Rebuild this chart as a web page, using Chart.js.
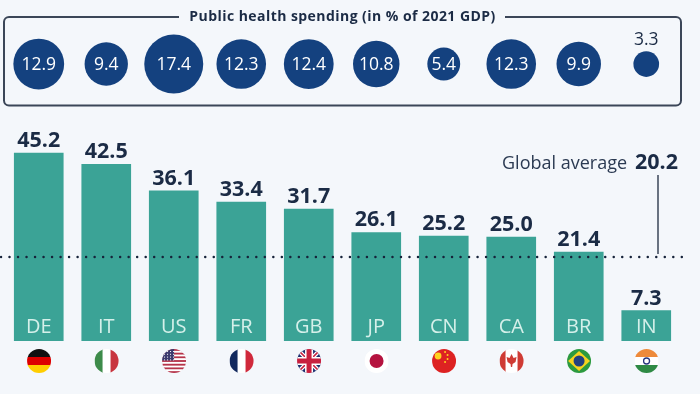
<!DOCTYPE html>
<html>
<head>
<meta charset="utf-8">
<style>
  html, body { margin: 0; padding: 0; background: #f4f7fb; }
  canvas { display: block; }
</style>
<script src="https://cdn.jsdelivr.net/npm/chart.js@4/dist/chart.umd.min.js"></script>
</head>
<body>
<canvas id="chart" width="700" height="394"></canvas>
<script>
const countries = ['DE', 'IT', 'US', 'FR', 'GB', 'JP', 'CN', 'CA', 'BR', 'IN'];
const shareValues = [45.2, 42.5, 36.1, 33.4, 31.7, 26.1, 25.2, 25.0, 21.4, 7.3];
const healthSpending = [12.9, 9.4, 17.4, 12.3, 12.4, 10.8, 5.4, 12.3, 9.9, 3.3];
const globalAverage = 20.2;
const boxTitle = 'Public health spending (in % of 2021 GDP)';
const averageLabel = 'Global average';

const FONT = '"Open Sans", sans-serif';
const INK = '#1b2b45';
const LINE = '#3b4658';
const NAVY = '#14417f';
const TEAL = '#3ba396';
const BUBBLE_ROW = 66.6;   // value on the y axis where the bubble row sits
const BUBBLE_K = 7.07;     // radius = k * sqrt(value), bubbles scale by area

function stripes(c, x, r, colors, vertical) {
    const n = colors.length;
    colors.forEach(function (col, i) {
        c.fillStyle = col;
        if (vertical) c.fillRect(x - r + i * 2 * r / n, 361 - r, 2 * r / n + 0.5, 2 * r);
        else c.fillRect(x - r, 361 - r + i * 2 * r / n, 2 * r, 2 * r / n + 0.5);
    });
}

const flags = {
    DE: function (c, x, r) { stripes(c, x, r, ['#111111', '#dd0000', '#ffce00']); },
    IT: function (c, x, r) { stripes(c, x, r, ['#3d8b4a', '#ffffff', '#c8353f'], true); },
    FR: function (c, x, r) { stripes(c, x, r, ['#12295e', '#ffffff', '#d0293b'], true); },
    US: function (c, x, r) {
        const rows = [];
        for (let i = 0; i < 13; i++) rows.push(i % 2 ? '#ffffff' : '#b5344a');
        stripes(c, x, r, rows);
        c.fillStyle = '#3c3b6e';
        c.fillRect(x - r, 361 - r, r, r * 0.95);
        c.fillStyle = '#ffffff';
        for (let a = 0; a < 4; a++) for (let b = 0; b < 4; b++) c.fillRect(x - r + 2 + a * 3, 361 - r + 2 + b * 2.8, 1, 1);
    },
    GB: function (c, x, r) {
        c.fillStyle = '#1f3070';
        c.fillRect(x - r, 361 - r, 2 * r, 2 * r);
        c.strokeStyle = '#ffffff';
        c.lineWidth = 4;
        c.beginPath();
        c.moveTo(x - r, 361 - r); c.lineTo(x + r, 361 + r);
        c.moveTo(x + r, 361 - r); c.lineTo(x - r, 361 + r);
        c.stroke();
        c.strokeStyle = '#c8203f';
        c.lineWidth = 1.6;
        c.stroke();
        c.fillStyle = '#ffffff';
        c.fillRect(x - r, 357, 2 * r, 8);
        c.fillRect(x - 4, 361 - r, 8, 2 * r);
        c.fillStyle = '#c8203f';
        c.fillRect(x - r, 358.5, 2 * r, 5);
        c.fillRect(x - 2.5, 361 - r, 5, 2 * r);
    },
    JP: function (c, x, r) {
        c.fillStyle = '#ffffff';
        c.fillRect(x - r, 361 - r, 2 * r, 2 * r);
        c.fillStyle = '#b5133f';
        c.beginPath(); c.arc(x, 361, 7, 0, Math.PI * 2); c.fill();
    },
    CN: function (c, x, r) {
        c.fillStyle = '#dd2222';
        c.fillRect(x - r, 361 - r, 2 * r, 2 * r);
        c.fillStyle = '#ffd21f';
        c.beginPath(); c.arc(x - 6, 356, 3.4, 0, Math.PI * 2); c.fill();
        [[1, 352], [3.5, 355], [3.5, 359], [1, 362]].forEach(function (p) {
            c.beginPath(); c.arc(x + p[0], p[1], 1, 0, Math.PI * 2); c.fill();
        });
    },
    CA: function (c, x, r) {
        stripes(c, x, r, ['#cf3b34', '#ffffff', '#ffffff', '#cf3b34'], true);
        c.fillStyle = '#cf3b34';
        c.beginPath();
        c.moveTo(x, 354); c.lineTo(x + 2, 358); c.lineTo(x + 5, 357); c.lineTo(x + 4, 362);
        c.lineTo(x + 1, 364); c.lineTo(x + 0.6, 367); c.lineTo(x - 0.6, 367); c.lineTo(x - 1, 364);
        c.lineTo(x - 4, 362); c.lineTo(x - 5, 357); c.lineTo(x - 2, 358);
        c.closePath(); c.fill();
    },
    BR: function (c, x, r) {
        c.fillStyle = '#2c9a3f';
        c.fillRect(x - r, 361 - r, 2 * r, 2 * r);
        c.fillStyle = '#f6d31e';
        c.beginPath();
        c.moveTo(x - r + 1, 361); c.lineTo(x, 351); c.lineTo(x + r - 1, 361); c.lineTo(x, 371);
        c.closePath(); c.fill();
        c.fillStyle = '#23407f';
        c.beginPath(); c.arc(x, 361, 5.5, 0, Math.PI * 2); c.fill();
    },
    IN: function (c, x, r) {
        stripes(c, x, r, ['#ee8a3a', '#ffffff', '#2f8a45']);
        c.strokeStyle = '#27357e';
        c.lineWidth = 1.3;
        c.beginPath(); c.arc(x, 361, 3, 0, Math.PI * 2); c.stroke();
    }
};

const decorPlugin = {
    id: 'decor',
    beforeDatasetsDraw: function (chart) {
        const c = chart.ctx;
        // box around the bubble row
        c.save();
        c.strokeStyle = LINE;
        c.lineWidth = 2;
        c.lineJoin = 'round';
        c.beginPath();
        c.moveTo(179, 17);
        c.lineTo(9, 17);
        c.arcTo(4, 17, 4, 22, 5);
        c.lineTo(4, 100);
        c.arcTo(4, 105.5, 9, 105.5, 5);
        c.lineTo(676, 105.5);
        c.arcTo(681, 105.5, 681, 100, 5);
        c.lineTo(681, 22);
        c.arcTo(681, 17, 676, 17, 5);
        c.lineTo(505, 17);
        c.stroke();
        c.fillStyle = INK;
        c.font = 'bold 14px ' + FONT;
        c.textAlign = 'center';
        c.textBaseline = 'alphabetic';
        c.letterSpacing = '0.45px';
        c.fillText(boxTitle, 342.5, 21);
        c.restore();
    },
    afterDatasetsDraw: function (chart) {
        const c = chart.ctx;
        const x = chart.scales.x;
        const y = chart.scales.y;
        const bars = chart.getDatasetMeta(0).data;
        const bubbles = chart.getDatasetMeta(1).data;
        c.save();
        c.textAlign = 'center';
        c.textBaseline = 'alphabetic';

        // value on top of each bar, country code inside at the foot
        bars.forEach(function (bar, i) {
            c.fillStyle = INK;
            c.font = 'bold 21.5px ' + FONT;
            c.fillText(shareValues[i].toFixed(1), bar.x, bar.y - 6);
            c.fillStyle = '#d5f0ea';
            c.font = '20px ' + FONT;
            c.fillText(countries[i], bar.x, 333);
        });

        // bubble values, the smallest sits above its bubble
        c.font = '17.5px ' + FONT;
        bubbles.forEach(function (b, i) {
            if (healthSpending[i] < 5) {
                c.fillStyle = INK;
                c.fillText(healthSpending[i].toFixed(1), b.x, 45);
            } else {
                c.fillStyle = '#ffffff';
                c.fillText(healthSpending[i].toFixed(1), b.x, 70);
            }
        });

        // global average line
        const avgY = y.getPixelForValue(globalAverage);
        c.strokeStyle = LINE;
        c.lineWidth = 1.5;
        c.beginPath();
        c.moveTo(658, 175);
        c.lineTo(658, avgY - 3);
        c.stroke();
        c.strokeStyle = '#16233a';
        c.lineWidth = 2.5;
        c.lineCap = 'round';
        c.setLineDash([0.01, 8.5]);
        c.beginPath();
        c.moveTo(1, avgY);
        c.lineTo(682, avgY);
        c.stroke();
        c.setLineDash([]);
        c.lineCap = 'butt';

        c.textAlign = 'left';
        c.fillStyle = '#2b3a52';
        c.font = '18px ' + FONT;
        c.fillText(averageLabel, 502, 169);
        c.fillStyle = INK;
        c.font = 'bold 21.5px ' + FONT;
        c.fillText(globalAverage.toFixed(1), 635, 169);

        // round flags under the bars
        countries.forEach(function (code, i) {
            const cx = x.getPixelForValue(i) + 0.3;
            c.save();
            c.beginPath();
            c.arc(cx, 361, 12, 0, Math.PI * 2);
            c.clip();
            flags[code](c, cx, 12);
            c.restore();
        });
        c.restore();
    }
};

new Chart(document.getElementById('chart').getContext('2d'), {
    type: 'bar',
    data: {
        labels: countries,
        datasets: [{
            data: shareValues,
            backgroundColor: TEAL,
            barThickness: 49,
            borderWidth: 0
        }, {
            type: 'bubble',
            data: healthSpending.map(function (v, i) {
                return { x: countries[i], y: BUBBLE_ROW, r: BUBBLE_K * Math.sqrt(v) };
            }),
            backgroundColor: NAVY,
            borderWidth: 0,
            hoverRadius: 0,
            clip: false
        }]
    },
    options: {
        responsive: false,
        animation: false,
        events: [],
        layout: { autoPadding: false, padding: { left: 5, right: 20, top: 0, bottom: 53 } },
        plugins: {
            legend: { display: false },
            tooltip: { enabled: false }
        },
        scales: {
            x: { type: 'category', offset: true, display: false },
            y: { type: 'linear', min: 0, max: 82, display: false }
        }
    },
    plugins: [decorPlugin]
});
</script>
</body>
</html>
